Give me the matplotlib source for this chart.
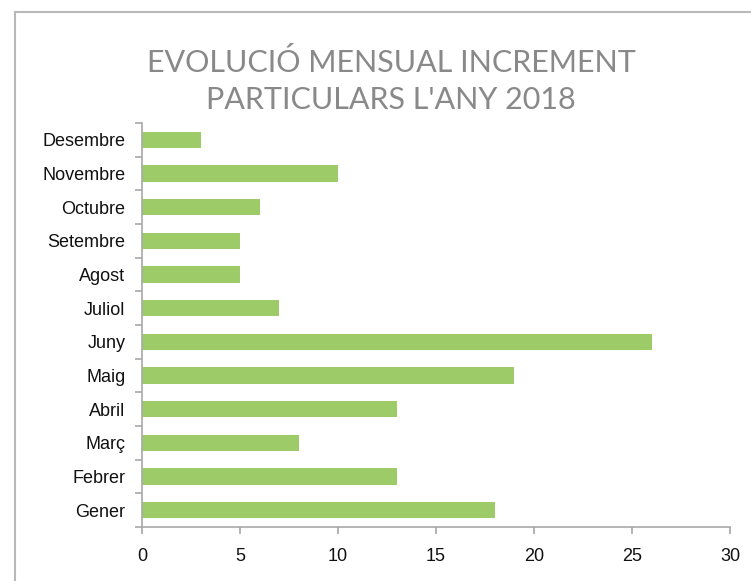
import matplotlib.pyplot as plt
from matplotlib.patches import Rectangle
import numpy as np

# Monthly data
months = ['Gener', 'Febrer', 'Març', 'Abril', 'Maig', 'Juny',
          'Juliol', 'Agost', 'Setembre', 'Octubre', 'Novembre', 'Desembre']
values = [18, 13, 8, 13, 19, 26, 7, 5, 5, 6, 10, 3]
xticks = [0, 5, 10, 15, 20, 25, 30]

W, H = 751, 581
fig = plt.figure(figsize=(W / 100, H / 100), dpi=100)

# outer chart frame (cut off at right and bottom)
fig.patches.append(Rectangle((15 / W, -0.1), 1.2, 1 - 12 / H + 0.1,
                             transform=fig.transFigure, fill=False,
                             edgecolor='#b8b8b8', linewidth=1.5))

ax = fig.add_axes([142 / W, 1 - 527 / H, 588 / W, 404 / H])

y = np.arange(len(months))
ax.barh(y, values, height=0.48, color='#9ccb68')

ax.set_xlim(0, 30)
ax.set_ylim(-0.5, len(months) - 0.5)
ax.set_xticks(xticks)
ax.set_yticks(y)
ax.set_yticklabels(months)
ax.set_yticks(np.arange(-0.5, len(months)), minor=True)

for s in ['top', 'right']:
    ax.spines[s].set_visible(False)
for s in ['left', 'bottom']:
    ax.spines[s].set_color('#a8a8a8')
    ax.spines[s].set_linewidth(1.2)

ax.tick_params(axis='y', which='major', length=0, pad=12)
ax.tick_params(axis='y', which='minor', length=5, color='#a8a8a8', width=1.2)
ax.tick_params(axis='x', length=5, color='#a8a8a8', width=1.2, pad=10)
for lab in ax.get_xticklabels() + ax.get_yticklabels():
    lab.set_fontfamily('Liberation Sans')
    lab.set_fontsize(13)
    lab.set_color('#111111')

fig.text(391 / W, 1 - 63 / H, 'EVOLUCIÓ MENSUAL INCREMENT',
         ha='center', va='center', fontsize=22, color='#898989',
         family='Lato')
fig.text(391 / W, 1 - 100 / H, "PARTICULARS L'ANY 2018",
         ha='center', va='center', fontsize=22, color='#898989',
         family='Lato')

fig.savefig('out.png', dpi=100)
